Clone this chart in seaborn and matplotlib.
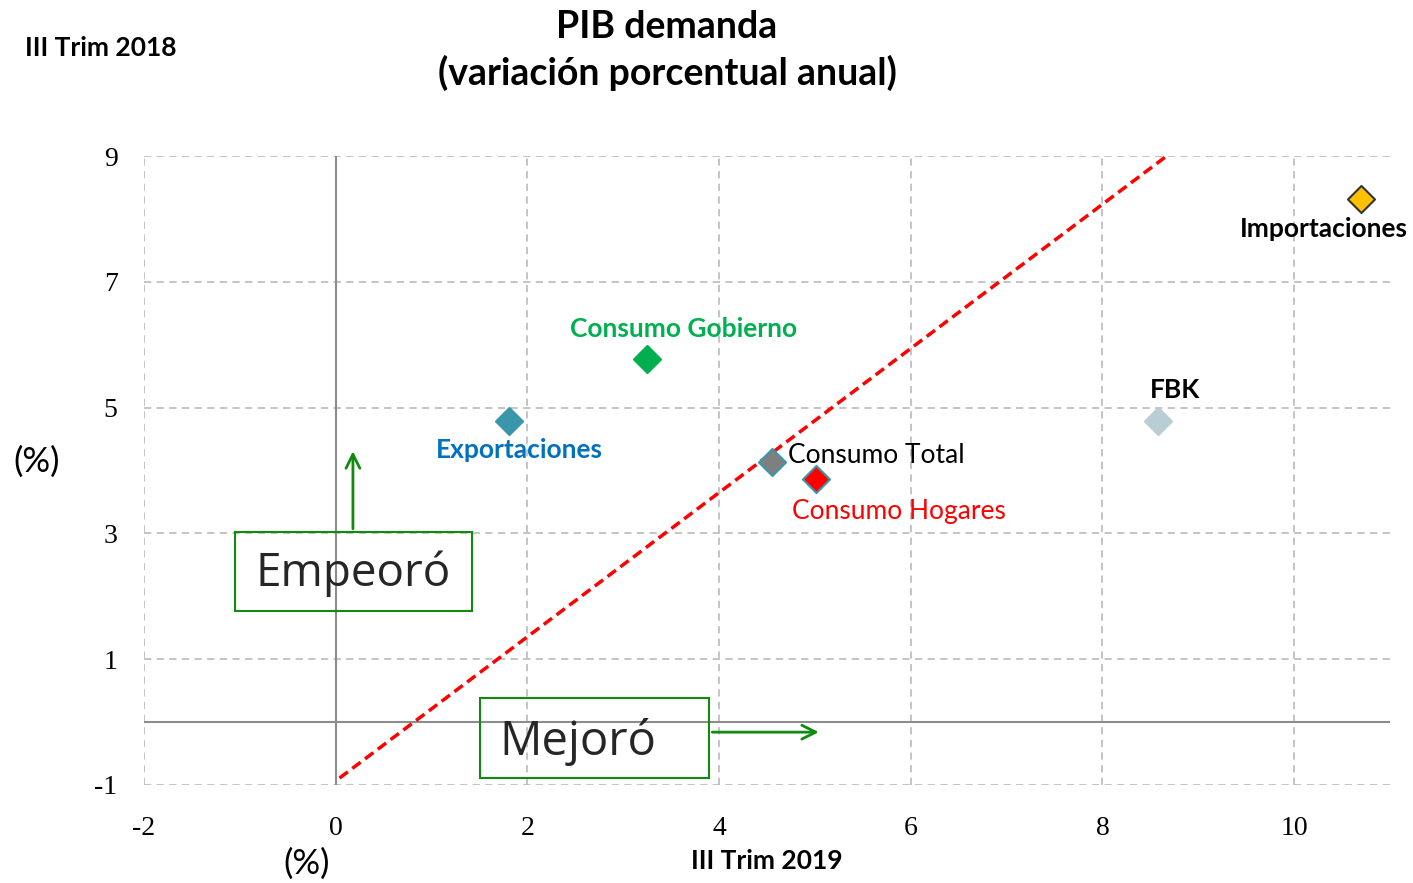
import matplotlib
matplotlib.use("Agg")
import matplotlib.pyplot as plt
import seaborn as sns
import pandas as pd
from matplotlib.patches import Rectangle

# ---- data ----
labels = ["Importaciones", "FBK", "Consumo Gobierno", "Exportaciones", "Consumo Total", "Consumo Hogares"]
x_2019 = [10.70, 8.58, 3.25, 1.81, 4.55, 5.01]
y_2018 = [8.32, 4.79, 5.78, 4.79, 4.13, 3.86]
x_ticks = [-2, 0, 2, 4, 6, 8, 10]
y_ticks = [-1, 1, 3, 5, 7, 9]
ref_line_x = [0.04, 8.67]
ref_line_y = [-0.89, 9.0]

# ---- styles ----
fill_colors = ["#FFC000", "#B9CDD5", "#00B050", "#3A97A9", "#7F7F7F", "#FF0000"]
edge_colors = ["#333333", "#B9CDD5", "#00B050", "#3A97A9", "#3A97A9", "#3A97A9"]
text_colors = ["#000000", "#000000", "#00B050", "#0070C0", "#000000", "#FF0000"]
text_weights = ["bold", "bold", "bold", "bold", "normal", "normal"]
offsets = [(-27, -22), (12, 22), (26, 21), (7, -21), (12, 5), (60, -23)]
has = ["center", "center", "center", "center", "left", "center"]

sns.set_theme(style="white")
plt.rcParams["font.family"] = ["Lato", "DejaVu Sans"]
plt.rcParams["text.color"] = "black"
plt.rcParams["axes.unicode_minus"] = False

df = pd.DataFrame({"x": x_2019, "y": y_2018, "label": labels})

fig = plt.figure(figsize=(14.13, 8.83), dpi=100)
ax = fig.add_axes([0.1019, 0.111, 0.8818, 0.7123])

ax.set_xlim(-2, 11)
ax.set_ylim(-1, 9)
ax.set_xticks(x_ticks)
ax.set_yticks(y_ticks)
ax.grid(True, linestyle=(0, (4, 3)), color="#BFBFBF", linewidth=1.3)
for s in ax.spines.values():
    s.set_visible(False)
ax.axhline(0, color="#8C8C8C", linewidth=1.5, zorder=1)
ax.axvline(0, color="#8C8C8C", linewidth=1.5, zorder=1)
ax.tick_params(axis="both", length=0, labelsize=20, labelcolor="black")
ax.tick_params(axis="x", pad=22)
ax.tick_params(axis="y", pad=19)
for t in ax.get_xticklabels() + ax.get_yticklabels():
    t.set_family("Liberation Serif")

sns.lineplot(x=ref_line_x, y=ref_line_y, ax=ax, color="#FF0000",
             linestyle=(0, (3, 1.6)), linewidth=2.5, zorder=2)

for i, row in df.iterrows():
    sns.scatterplot(data=df.iloc[[i]], x="x", y="y", ax=ax, marker="D", s=190,
                    color=fill_colors[i], edgecolor=edge_colors[i], linewidth=1.5,
                    zorder=4, legend=False)
    ax.annotate(row["label"], (row["x"], row["y"]), xytext=offsets[i],
                textcoords="offset points", ha=has[i], va="center",
                fontsize=19, color=text_colors[i], fontweight=text_weights[i], zorder=5)

ax.set_xlabel("")
ax.set_ylabel("")

# Annotation boxes
ax.add_patch(Rectangle((-1.05, 1.76), 2.47, 1.27, fill=False,
                       edgecolor="#108A10", linewidth=1.5, zorder=3))
ax.text(0.18, 2.36, "Empeoró", ha="center", va="center", fontsize=33,
        color="#262626", family="Open Sans", zorder=4)
ax.annotate("", xy=(0.18, 4.35), xytext=(0.18, 3.03),
            arrowprops=dict(arrowstyle="->", color="#108A10", lw=2, mutation_scale=25), zorder=4)

ax.add_patch(Rectangle((1.51, -0.89), 2.39, 1.27, fill=False,
                       edgecolor="#108A10", linewidth=1.5, zorder=3))
ax.text(2.53, -0.31, "Mejoró", ha="center", va="center", fontsize=34,
        color="#262626", family="Open Sans", zorder=4)
ax.annotate("", xy=(5.07, -0.16), xytext=(3.90, -0.16),
            arrowprops=dict(arrowstyle="->", color="#108A10", lw=2, mutation_scale=25), zorder=4)

# Titles and labels
fig.text(667 / 1413, 1 - 27 / 883, "PIB demanda", ha="center", va="center",
         fontsize=27, fontweight="bold")
fig.text(667 / 1413, 1 - 73 / 883, "(variación porcentual anual)", ha="center", va="center",
         fontsize=27, fontweight="bold")
fig.text(25 / 1413, 1 - 48 / 883, "III Trim 2018", ha="left", va="center",
         fontsize=19, fontweight="bold")
fig.text(37 / 1413, 1 - 462 / 883, "(%)", ha="center", va="center", fontsize=25)
fig.text(307 / 1413, 1 - 864 / 883, "(%)", ha="center", va="center", fontsize=25)
fig.text(767 / 1413, 1 - 861 / 883, "III Trim 2019", ha="center", va="center",
         fontsize=19, fontweight="bold")

fig.savefig("out.png", dpi=100)
